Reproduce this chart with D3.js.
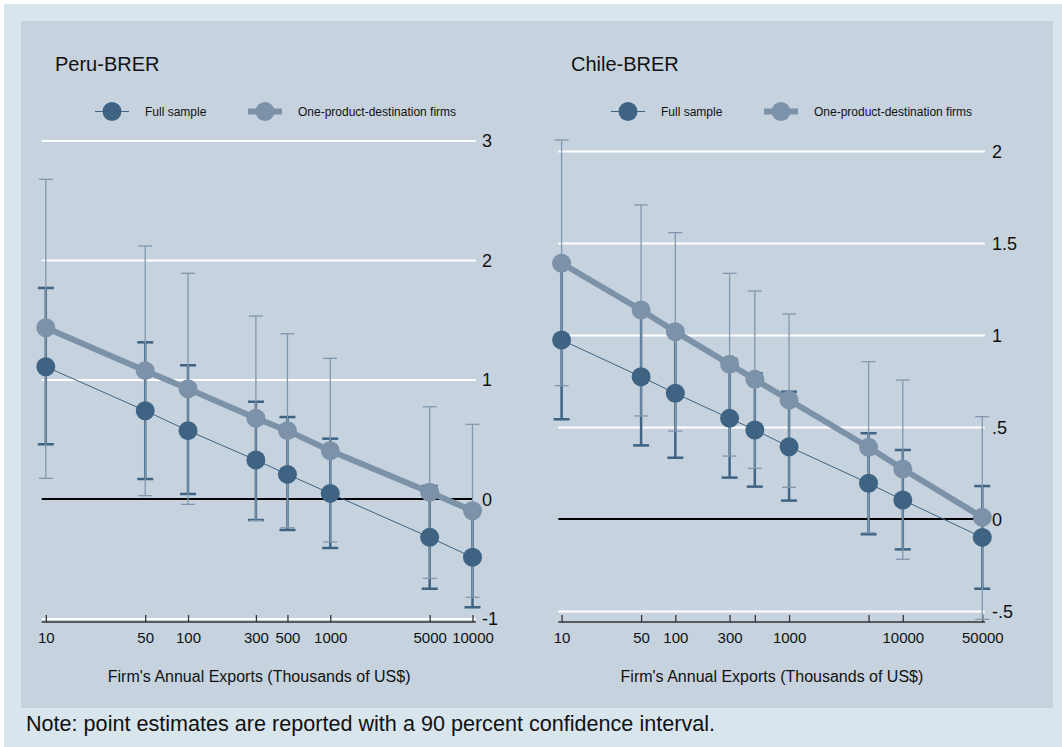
<!DOCTYPE html>
<html><head><meta charset="utf-8">
<script src="https://cdn.jsdelivr.net/npm/d3@7"></script>
<style>body{margin:0;background:#fff}svg{display:block;font-family:"Liberation Sans",Arial,sans-serif}</style>
</head><body><svg id="c" width="1062" height="747"></svg>
<script>
// ---------- DATA ----------
const peruX = [10, 50, 100, 300, 500, 1000, 5000, 10000];
const peruFull   = [1.107, 0.739, 0.572, 0.326, 0.206, 0.047, -0.321, -0.488];
const peruFullLo = [0.458, 0.167, 0.042, -0.176, -0.259, -0.41, -0.751, -0.906];
const peruFullHi = [1.766, 1.311, 1.119, 0.814, 0.686, 0.505, 0.109, -0.07];
const peruOne    = [1.433, 1.074, 0.923, 0.675, 0.572, 0.404, 0.056, -0.098];
const peruOneLo  = [0.173, 0.028, -0.045, -0.18, -0.24, -0.36, -0.664, -0.823];
const peruOneHi  = [2.675, 2.117, 1.889, 1.531, 1.383, 1.177, 0.772, 0.625];

const chileX = [10, 50, 100, 300, 500, 1000, 5000, 10000, 50000];
const chileFull   = [0.973, 0.773, 0.683, 0.547, 0.484, 0.393, 0.194, 0.103, -0.1];
const chileFullLo = [0.542, 0.4, 0.333, 0.225, 0.176, 0.1, -0.083, -0.165, -0.379];
const chileFullHi = [1.404, 1.146, 1.033, 0.869, 0.792, 0.692, 0.466, 0.375, 0.179];
const chileOne    = [1.39, 1.136, 1.018, 0.841, 0.759, 0.647, 0.39, 0.272, 0.009];
const chileOneLo  = [0.725, 0.56, 0.478, 0.342, 0.275, 0.172, -0.075, -0.219, -0.545];
const chileOneHi  = [2.06, 1.707, 1.556, 1.335, 1.239, 1.114, 0.855, 0.755, 0.556];

const peruXTicks = [10, 50, 100, 300, 500, 1000, 5000, 10000];
const peruXLabels = ["10", "50", "100", "300", "500", "1000", "5000", "10000"];
const chileXTicks = [10, 50, 100, 300, 500, 1000, 5000, 10000, 50000];
const chileXLabels = ["10", "50", "100", "300", "", "1000", "", "10000", "50000"];
const peruYTicks = [-1, 0, 1, 2, 3];
const peruYLabels = ["-1", "0", "1", "2", "3"];
const chileYTicks = [-0.5, 0, 0.5, 1, 1.5, 2];
const chileYLabels = ["-.5", "0", ".5", "1", "1.5", "2"];

const seriesNames = ["Full sample", "One-product-destination firms"];
const titles = ["Peru-BRER", "Chile-BRER"];
const xTitle = "Firm's Annual Exports (Thousands of US$)";
const note = "Note: point estimates are reported with a 90 percent confidence interval.";

// ---------- STYLE ----------
const DARK = "#3e6383", LIGHT = "#7b92a9", LIGHTCI = "#8197ad";
const svg = d3.select("#c");
svg.append("rect").attr("x", 4).attr("y", 4).attr("width", 1058).attr("height", 743).attr("fill", "#d9e5ec");
svg.append("rect").attr("x", 21).attr("y", 21).attr("width", 1032).attr("height", 687).attr("fill", "#c6d3df");

function panel(cfg) {
  const g = svg.append("g");
  const x = d3.scaleLog().domain(cfg.xDomain).range(cfg.xRange);
  const y = d3.scaleLinear().domain(cfg.yDomain).range(cfg.yRange);
  const [pl, pr] = cfg.plotX;
  const axisY = 622;

  // gridlines
  const yAxis = d3.axisRight(y).tickValues(cfg.yTicks).tickSize(0).tickPadding(0)
    .tickFormat((d, i) => cfg.yLabels[i]);
  const yg = g.append("g").attr("transform", `translate(${pr},0)`).call(yAxis);
  yg.select(".domain").remove();
  yg.selectAll("text").attr("x", cfg.yLabelX - pr).attr("dy", "0.35em")
    .attr("font-size", 18).attr("fill", "#111").attr("font-family", null);
  yg.selectAll(".tick").filter(d => d !== 0).append("line")
    .attr("x1", pl - pr).attr("x2", 0).attr("stroke", "#fff").attr("stroke-width", 2);
  // zero line
  g.append("line").attr("x1", pl).attr("x2", cfg.zeroEnd).attr("y1", y(0)).attr("y2", y(0))
    .attr("stroke", "#000").attr("stroke-width", 2);

  // x axis
  const xAxis = d3.axisBottom(x).tickValues(cfg.xTicks).tickSizeInner(-7).tickSizeOuter(0)
    .tickPadding(14).tickFormat((d, i) => cfg.xLabels[i]);
  const xg = g.append("g").attr("transform", `translate(0,${axisY})`).call(xAxis);
  xg.select(".domain").attr("d", `M${pl},0H${pr}`).attr("stroke", "#333").attr("stroke-width", 1.5);
  xg.selectAll(".tick line").attr("stroke", "#333").attr("stroke-width", 1.3);
  xg.selectAll("text").attr("font-size", 15).attr("fill", "#111").attr("font-family", null).attr("y", 10).attr("dy", "0.71em");

  g.append("text").attr("x", (cfg.xRange[0] + cfg.xRange[1]) / 2).attr("y", 682)
    .attr("text-anchor", "middle").attr("font-size", 16).attr("fill", "#111").text(xTitle);

  // title + legend
  g.append("text").attr("x", cfg.titleX).attr("y", 70.5).attr("font-size", 20).attr("fill", "#111").text(cfg.title);
  const lx = cfg.titleX + 57, ly = 111.5;
  g.append("line").attr("x1", lx - 17).attr("x2", lx + 17).attr("y1", ly).attr("y2", ly).attr("stroke", DARK).attr("stroke-width", 1);
  g.append("circle").attr("cx", lx).attr("cy", ly).attr("r", 9.5).attr("fill", DARK);
  g.append("text").attr("x", lx + 33).attr("y", ly).attr("dy", "0.35em").attr("font-size", 12).attr("fill", "#111").text(seriesNames[0]);
  const lx2 = lx + 153;
  g.append("line").attr("x1", lx2 - 17).attr("x2", lx2 + 17).attr("y1", ly).attr("y2", ly).attr("stroke", LIGHT).attr("stroke-width", 6);
  g.append("circle").attr("cx", lx2).attr("cy", ly).attr("r", 9.5).attr("fill", LIGHT);
  g.append("text").attr("x", lx2 + 33).attr("y", ly).attr("dy", "0.35em").attr("font-size", 12).attr("fill", "#111").text(seriesNames[1]);

  const data = cfg.xs.map((v, i) => ({x: v, f: cfg.full[i], fl: cfg.fullLo[i], fh: cfg.fullHi[i],
    o: cfg.one[i], ol: cfg.oneLo[i], oh: cfg.oneHi[i]}));

  function caps(lo, hi, col, w, cw) {
    const e = g.append("g");
    e.selectAll("line.v").data(data).join("line").attr("x1", d => x(d.x)).attr("x2", d => x(d.x))
      .attr("y1", d => y(d[lo])).attr("y2", d => y(d[hi])).attr("stroke", col).attr("stroke-width", w);
    [lo, hi].forEach(k => {
      e.selectAll("line." + k).data(data).join("line").attr("x1", d => x(d.x) - cw / 2).attr("x2", d => x(d.x) + cw / 2)
        .attr("y1", d => y(d[k])).attr("y2", d => y(d[k])).attr("stroke", col).attr("stroke-width", w);
    });
  }
  caps("fl", "fh", DARK, 2.5, 16);
  caps("ol", "oh", LIGHTCI, 1.3, 14);

  g.append("path").datum(data).attr("d", d3.line().x(d => x(d.x)).y(d => y(d.f)))
    .attr("fill", "none").attr("stroke", DARK).attr("stroke-width", 1);
  g.selectAll("circle.f").data(data).join("circle").attr("class", "f").attr("cx", d => x(d.x)).attr("cy", d => y(d.f))
    .attr("r", 9.5).attr("fill", DARK);
  g.append("path").datum(data).attr("d", d3.line().x(d => x(d.x)).y(d => y(d.o)))
    .attr("fill", "none").attr("stroke", LIGHT).attr("stroke-width", 6);
  g.selectAll("circle.o").data(data).join("circle").attr("class", "o").attr("cx", d => x(d.x)).attr("cy", d => y(d.o))
    .attr("r", 9.5).attr("fill", LIGHT);
}

panel({title: titles[0], titleX: 55, xDomain: [10, 10000], xRange: [45.8, 472.5], plotX: [41.7, 475.7],
  yDomain: [-1, 3], yRange: [618.5, 140.5], yTicks: peruYTicks, yLabels: peruYLabels, yLabelX: 482,
  xTicks: peruXTicks, xLabels: peruXLabels, zeroEnd: 472.5,
  xs: peruX, full: peruFull, fullLo: peruFullLo, fullHi: peruFullHi, one: peruOne, oneLo: peruOneLo, oneHi: peruOneHi});
panel({title: titles[1], titleX: 571, xDomain: [10, 50000], xRange: [561.6, 982.3], plotX: [558.3, 985],
  yDomain: [-0.5, 2], yRange: [611, 151], yTicks: chileYTicks, yLabels: chileYLabels, yLabelX: 992,
  xTicks: chileXTicks, xLabels: chileXLabels, zeroEnd: 982.3,
  xs: chileX, full: chileFull, fullLo: chileFullLo, fullHi: chileFullHi, one: chileOne, oneLo: chileOneLo, oneHi: chileOneHi});

svg.append("text").attr("x", 26).attr("y", 730.5).attr("font-size", 21.6).attr("fill", "#111").text(note);
</script></body></html>
